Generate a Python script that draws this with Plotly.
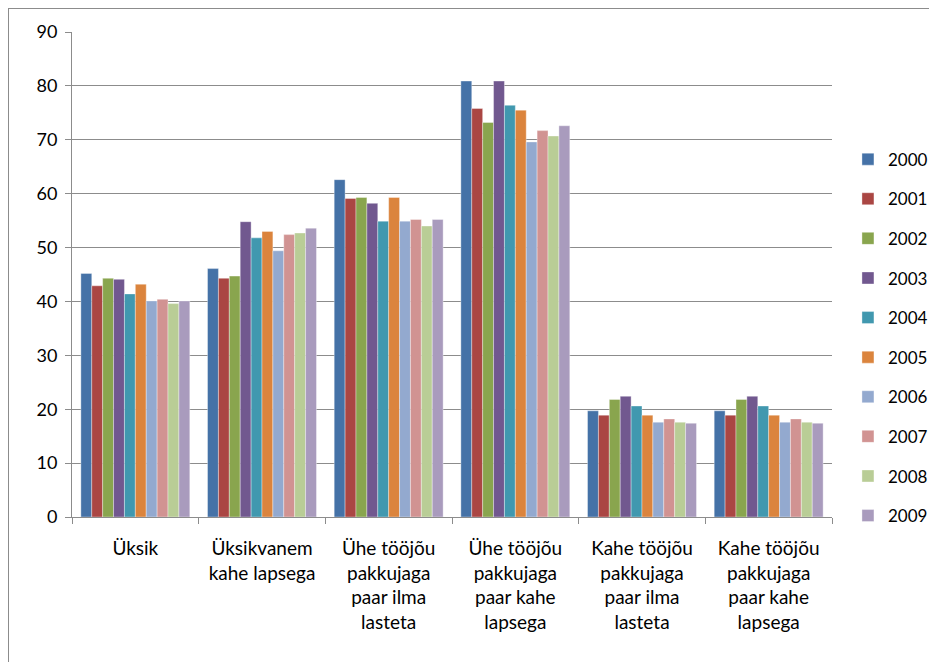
import plotly.graph_objects as go

categories = [
    "Üksik",
    "Üksikvanem<br>kahe lapsega",
    "Ühe tööjõu<br>pakkujaga<br>paar ilma<br>lasteta",
    "Ühe tööjõu<br>pakkujaga<br>paar kahe<br>lapsega",
    "Kahe tööjõu<br>pakkujaga<br>paar ilma<br>lasteta",
    "Kahe tööjõu<br>pakkujaga<br>paar kahe<br>lapsega",
]
years = ["2000", "2001", "2002", "2003", "2004", "2005", "2006", "2007", "2008", "2009"]

v2000 = [45.2, 46.1, 62.6, 80.9, 19.7, 19.7]
v2001 = [42.9, 44.3, 59.1, 75.8, 18.9, 18.9]
v2002 = [44.3, 44.7, 59.3, 73.2, 21.8, 21.8]
v2003 = [44.1, 54.8, 58.2, 80.9, 22.4, 22.4]
v2004 = [41.4, 51.8, 54.9, 76.4, 20.6, 20.6]
v2005 = [43.2, 53.0, 59.3, 75.5, 18.9, 18.9]
v2006 = [40.1, 49.4, 54.9, 69.6, 17.6, 17.6]
v2007 = [40.4, 52.4, 55.2, 71.7, 18.2, 18.2]
v2008 = [39.6, 52.7, 54.0, 70.7, 17.6, 17.6]
v2009 = [40.1, 53.6, 55.2, 72.6, 17.4, 17.4]
series = [v2000, v2001, v2002, v2003, v2004, v2005, v2006, v2007, v2008, v2009]

colors = ["#4572A7", "#AA4643", "#89A54E", "#71588F", "#4198AF",
          "#DB843D", "#93A9CF", "#D19392", "#B9CD96", "#A99BBD"]

font_family = "Lato, 'Open Sans', sans-serif"

fig = go.Figure()
for yr, vals, col in zip(years, series, colors):
    fig.add_trace(go.Bar(
        name=yr, x=categories, y=vals, marker_color=col,
        marker_line_color="rgba(255,255,255,0.6)", marker_line_width=0.6,
        legendgroup=yr,
    ))

fig.update_layout(
    width=929, height=654,
    margin=dict(l=64, r=105, t=24, b=145, autoexpand=False),
    barmode="group", bargap=0.14, bargroupgap=0,
    plot_bgcolor="white", paper_bgcolor="white",
    font=dict(family=font_family, size=19, color="#000000"),
    legend=dict(
        x=1.021, y=0.774, xanchor="left", yanchor="top",
        font=dict(size=17), tracegroupgap=14.5,
        itemwidth=30, bgcolor="rgba(0,0,0,0)",
    ),
    showlegend=True,
)
fig.update_yaxes(
    range=[0, 90], dtick=10, showgrid=True, gridcolor="#8c8c8c", gridwidth=1,
    showline=True, linecolor="#8c8c8c", linewidth=1,
    ticks="outside", ticklen=6, tickcolor="#8c8c8c",
    tickfont=dict(size=18), zeroline=False, ticklabelstandoff=4,
)
fig.update_xaxes(
    showline=True, linecolor="#8c8c8c", linewidth=1,
    ticks="outside", tickson="boundaries", ticklen=6, tickcolor="#8c8c8c",
    tickfont=dict(size=19), showgrid=False, ticklabelstandoff=14,
)

# outer chart border (top and left edges visible)
fig.add_shape(type="line", xref="paper", yref="paper",
              x0=-0.0842, x1=1.2, y0=1.0495, y1=1.0495,
              line=dict(color="#8c8c8c", width=2))
fig.add_shape(type="line", xref="paper", yref="paper",
              x0=-0.0842, x1=-0.0842, y0=1.0495, y1=-0.35,
              line=dict(color="#8c8c8c", width=2))

fig.write_html("out.html")
